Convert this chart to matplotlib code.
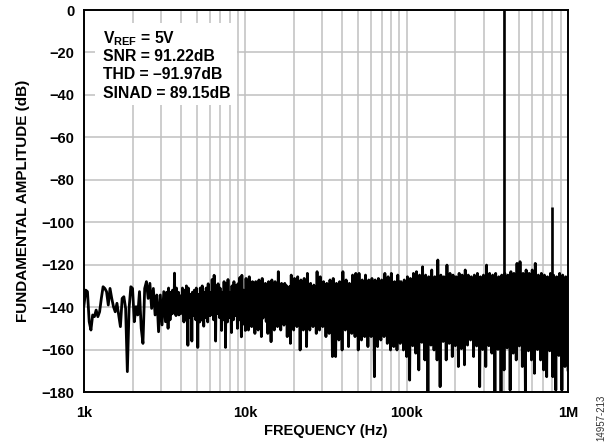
import numpy as np
import matplotlib.pyplot as plt
from matplotlib.patches import Rectangle

plt.rcParams['font.family'] = ['Liberation Sans', 'DejaVu Sans']
plt.rcParams['font.weight'] = 'bold'
plt.rcParams['axes.labelweight'] = 'bold'
plt.rcParams['mathtext.fontset'] = 'custom'
plt.rcParams['mathtext.rm'] = 'Liberation Sans:bold'
plt.rcParams['mathtext.bf'] = 'Liberation Sans:bold'

# noise floor, 1kHz - 3.2kHz (single trace)
amp_1a = [-139.0, -132.0, -132.7, -146.9, -150.8, -143.7, -144.5, -141.4, -144.5, -142.2,
          -135.9, -130.4, -131.2, -132.7, -139.0, -131.2, -135.9, -139.8, -142.2, -138.2,
          -143.7, -149.2, -135.9, -135.1, -140.6, -170.4, -140.6, -130.4, -131.2, -146.9,
          -139.8, -143.7, -132.7, -150.0, -157.1, -131.2, -128.0, -135.9, -128.8, -140.6,
          -131.2, -143.7, -134.3, -151.6, -134.3, -148.4, -132.7, -146.9]

# noise floor peaks / troughs, 3.2kHz - 10kHz
up_1b = [-133, -134.8, -131, -135.2, -133, -134.5, -132, -135.6, -124, -134.9,
         -131, -135.1, -133, -134.4, -135, -135.8, -131, -134.7, -132, -135.3,
         -130, -134.6, -131, -135.0, -134, -134.3, -133, -135.5, -132, -134.8,
         -131, -135.2, -134, -134.6, -131, -135.4, -130, -134.9, -133, -135.1,
         -131, -134.2, -129, -134.7, -133, -135.3, -127, -134.5, -125, -135.0,
         -130, -134.4, -129, -134.8, -131, -135.2, -133, -134.6, -128, -134.3,
         -129, -134.9, -127, -134.1, -133, -134.7, -130, -135.0, -128, -134.4,
         -130, -134.8, -129, -134.2, -126, -134.6, -125, -134.0, -132, -134.5]
lo_1b = [-143.2, -150, -142.6, -146, -143.5, -143, -142.8, -141, -143.1, -144,
         -142.5, -143, -143.7, -141, -142.9, -142, -143.3, -147, -142.7, -146,
         -143.6, -158, -142.4, -145, -143.0, -156, -142.8, -144, -143.4, -146,
         -142.6, -159, -143.2, -147, -142.9, -146, -143.5, -149, -142.7, -145,
         -143.1, -147, -142.5, -144, -143.8, -143, -142.9, -146, -143.3, -156,
         -142.6, -143, -143.0, -145, -142.8, -151, -143.4, -146, -142.7, -159,
         -143.2, -147, -142.5, -145, -143.6, -152, -142.9, -146, -143.1, -144,
         -142.7, -150, -143.5, -146, -142.8, -154, -143.3, -148, -142.6, -151]

# 10kHz - 100kHz
up_2 = [-126.5, -130.2, -125.7, -129.8, -128.0, -131.0, -128.0, -130.5, -127.2, -131.5,
        -126.5, -129.5, -128.8, -130.8, -128.0, -131.2, -127.2, -130.0, -128.0, -129.4,
        -123.3, -130.6, -128.8, -131.4, -128.8, -129.9, -131.2, -130.3, -124.9, -129.2,
        -126.5, -130.7, -125.7, -129.6, -127.2, -130.9, -126.5, -129.3, -124.1, -130.1,
        -128.8, -131.3, -129.6, -130.4, -123.3, -129.7, -125.7, -130.8, -128.0, -129.5,
        -128.8, -130.6, -127.2, -129.1, -126.5, -130.3, -128.8, -129.8, -128.0, -130.9,
        -123.3, -129.4, -127.2, -130.2, -128.8, -129.6, -124.9, -128.8, -124.1, -129.9,
        -124.1, -128.6, -127.2, -129.7, -124.9, -128.4, -127.2, -129.5, -126.5, -128.9,
        -127.2, -129.3, -126.5, -128.7, -127.2, -129.8, -124.1, -128.5, -125.7, -129.2,
        -124.1, -128.3, -128.0, -129.6, -124.9, -128.1, -128.0, -129.0, -127.2, -128.4]
lo_2 = [-146.5, -150.8, -147.2, -149.2, -145.8, -152.4, -146.9, -150.8, -147.5, -153.9,
        -145.2, -144.5, -146.8, -152.4, -147.9, -156.3, -146.1, -150.8, -147.3, -149.2,
        -146.6, -150.8, -145.9, -148.5, -147.7, -153.9, -146.4, -157.1, -147.1, -150.8,
        -146.0, -149.2, -147.8, -160.2, -146.7, -150.8, -147.4, -158.6, -146.2, -150.8,
        -147.6, -149.2, -146.3, -152.4, -147.0, -150.8, -146.8, -149.2, -147.9, -153.9,
        -146.5, -152.4, -148.1, -163.3, -147.2, -163.3, -148.4, -155.5, -147.6, -160.2,
        -148.0, -150.8, -148.7, -158.6, -147.3, -152.4, -148.9, -153.9, -148.2, -160.2,
        -149.1, -155.5, -148.5, -153.9, -149.4, -158.6, -148.8, -153.9, -149.6, -172.8,
        -149.0, -158.6, -149.8, -155.5, -149.3, -153.9, -150.1, -157.1, -149.5, -160.2,
        -150.3, -158.6, -149.7, -160.2, -150.5, -157.1, -150.0, -160.2, -150.4, -163.3]

# 100kHz - 1MHz
up_3 = [-125.7, -127.6, -126.5, -127.1, -124.1, -128.0, -123.3, -127.4, -124.9, -127.9,
        -121.0, -127.2, -124.9, -128.2, -125.7, -127.5, -122.5, -127.8, -125.7, -127.0,
        -117.8, -127.7, -124.9, -127.3, -125.7, -128.1, -120.2, -127.6, -124.1, -127.2,
        -124.9, -127.9, -125.7, -127.4, -124.1, -127.8, -124.9, -127.1, -122.5, -127.6,
        -124.9, -127.3, -125.7, -127.9, -124.9, -127.5, -124.1, -127.0, -125.7, -127.7,
        -124.9, -127.2, -120.2, -127.8, -124.1, -127.4, -124.9, -127.6, -124.1, -127.1,
        -125.7, -127.9, -124.9, -127.3, -124.1, -127.7, -124.9, -127.5, -123.3, -127.0,
        -124.1, -127.6, -119.4, -127.2, -118.6, -127.8, -124.1, -127.4, -122.5, -127.9,
        -124.1, -127.1, -122.5, -127.6, -119.4, -127.3, -124.9, -127.8, -124.1, -127.5,
        -124.9, -127.2, -125.7, -127.7, -124.1, -127.4, -124.9, -127.9, -125.7, -127.3,
        -124.1, -127.6, -124.9, -127.1, -125.7, -127.5]
lo_3 = [-151.2, -174.4, -152.0, -158.2, -151.5, -161.7, -152.4, -169.6, -151.0, -156.6,
        -152.2, -164.9, -151.7, -180.0, -152.6, -157.9, -151.3, -160.2, -152.1, -164.9,
        -151.8, -177.5, -152.5, -156.2, -151.4, -164.9, -152.3, -157.1, -151.9, -163.3,
        -152.7, -158.2, -151.6, -168.0, -152.0, -159.6, -151.2, -167.2, -152.4, -157.9,
        -151.5, -155.5, -152.2, -163.3, -151.8, -158.3, -152.6, -177.5, -151.1, -160.0,
        -152.3, -168.0, -151.7, -158.2, -152.5, -161.7, -151.4, -180.0, -152.1, -159.9,
        -151.9, -180.0, -152.8, -169.6, -151.6, -159.2, -152.0, -179.1, -151.3, -161.7,
        -152.4, -164.9, -151.5, -158.3, -152.2, -168.0, -151.8, -180.0, -152.6, -160.6,
        -151.1, -164.9, -152.3, -171.2, -151.7, -160.0, -152.5, -164.9, -151.4, -169.6,
        -152.1, -172.8, -151.9, -160.6, -152.7, -172.8, -151.6, -179.1, -152.0, -162.8,
        -151.2, -179.1, -152.4, -168.0, -151.5, -169.6]

# fundamental and 2nd harmonic
tone_freq = [400e3, 800e3]
tone_amp = [0.0, -93.0]

y_ticks = [0, -20, -40, -60, -80, -100, -120, -140, -160, -180]
x_ticks = [1e3, 1e4, 1e5, 1e6]
x_ticklabels = ['1k', '10k', '100k', '1M']
notes = [r'V$_\mathregular{REF}$ = 5V', 'SNR = 91.22dB', 'THD = –91.97dB', 'SINAD = 89.15dB']
note_rows = [43, 61.3, 79, 98]


def zigzag(upper, lower, f0, f1):
    vals = np.empty(2 * len(upper))
    vals[0::2] = upper
    vals[1::2] = lower
    return np.geomspace(f0, f1, len(vals)), vals


W, H = 610, 448
fig = plt.figure(figsize=(W / 100, H / 100), dpi=100)
ax = fig.add_axes([84 / W, 1 - 392 / H, (568 - 84) / W, (392 - 10) / H])

f_1a = np.geomspace(1e3, 3.2e3, len(amp_1a))
f_1b, a_1b = zigzag(up_1b, lo_1b, 3.25e3, 1e4)
f_2, a_2 = zigzag(up_2, lo_2, 1.01e4, 1e5)
f_3, a_3 = zigzag(up_3, lo_3, 1.01e5, 1e6)
freq = np.concatenate([f_1a, f_1b, f_2, f_3])
amp = np.concatenate([amp_1a, a_1b, a_2, a_3])

ax.plot(freq, amp, color='black', lw=2.0, zorder=3)
for f, a in zip(tone_freq, tone_amp):
    ax.vlines(f, np.interp(f, freq, amp), a, color='black', lw=1.9, zorder=3)

ax.set_xscale('log')
ax.set_xlim(1e3, 1e6)
ax.set_ylim(-180, 0)
ax.set_xticks(x_ticks)
ax.set_xticklabels(x_ticklabels)
ax.set_yticks(y_ticks)
ax.set_yticklabels([f'{t}'.replace('-', '−') for t in y_ticks])
ax.xaxis.set_minor_formatter(plt.NullFormatter())
ax.set_axisbelow(True)
ax.grid(True, which='both', axis='x', color='#c0c0c0', lw=1.1)
ax.grid(True, which='major', axis='y', color='#c0c0c0', lw=1.1)
ax.tick_params(which='both', length=0, labelsize=10.5)
ax.tick_params(axis='y', pad=7)
ax.tick_params(axis='x', pad=10)
for s in ax.spines.values():
    s.set_linewidth(1.4)

ax.set_xlabel('FREQUENCY (Hz)', fontsize=10.5, labelpad=3)
ax.set_ylabel('FUNDAMENTAL AMPLITUDE (dB)', fontsize=11, labelpad=8)

# white panel behind the test conditions
ax.add_patch(Rectangle((95 / W, 1 - 105 / H), (237 - 95) / W, (105 - 23) / H,
                       transform=fig.transFigure, facecolor='white', edgecolor='none', zorder=1))
for txt, row in zip(notes, note_rows):
    fig.text(103 / W, 1 - row / H, txt, fontsize=11.3, va='baseline')

fig.text(601 / W, 1 - 418 / H, '14957-213', rotation=90, fontsize=7, fontweight='normal',
         color='#333333', ha='center', va='center')

fig.savefig('out.png', dpi=100)
